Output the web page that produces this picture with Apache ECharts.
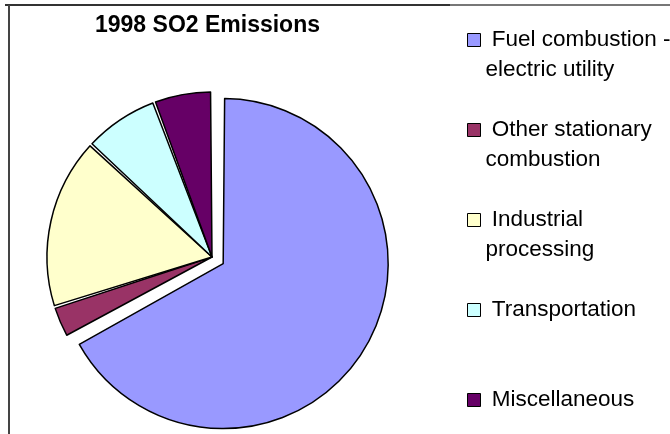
<!DOCTYPE html>
<html>
<head>
<meta charset="utf-8">
<script src="https://cdn.jsdelivr.net/npm/echarts@6/dist/echarts.min.js"></script>
<style>
  html, body { margin: 0; padding: 0; background: #fff; }
  #so2-chart { width: 670px; height: 434px; }
</style>
</head>
<body>
<div id="so2-chart"></div>
<script>
// 1998 SO2 emissions, share of total (%)
const categories = [
  'Fuel combustion - electric utility',
  'Other stationary combustion',
  'Industrial processing',
  'Transportation',
  'Miscellaneous'
];
const shares = [67.0, 3.1, 16.8, 7.4, 5.7];
const legendLines = [
  ['Fuel combustion -', 'electric utility'],
  ['Other stationary', 'combustion'],
  ['Industrial', 'processing'],
  ['Transportation', ''],
  ['Miscellaneous', '']
];
const colors = ['#9999ff', '#993366', '#ffffcc', '#ccffff', '#660066'];

const chartDom = document.getElementById('so2-chart');
const myChart = echarts.init(chartDom);

const option = {
  animation: false,
  color: colors,
  title: {
    text: '1998 SO2 Emissions',
    left: 90,
    top: 9,
    textStyle: {
      fontFamily: 'Liberation Sans, Arial, sans-serif',
      fontSize: 23,
      fontWeight: 'bold',
      color: '#000'
    }
  },
  legend: {
    orient: 'vertical',
    left: 462,
    top: -10,
    height: 480,
    itemGap: 0,
    itemWidth: 13,
    itemHeight: 13,
    icon: 'rect',
    selectedMode: false,
    data: categories,
    itemStyle: {
      borderColor: '#000',
      borderWidth: 1
    },
    formatter: (name) => {
      const lines = legendLines[categories.indexOf(name)];
      // blank first line keeps the square level with the first text line
      return ' \n ' + lines[0] + '\n' + (lines[1] || ' ');
    },
    textStyle: {
      fontFamily: 'Liberation Sans, Arial, sans-serif',
      fontSize: 22.5,
      lineHeight: 30,
      color: '#000'
    }
  },
  graphic: [
    {type: 'line', shape: {x1: 5, y1: 5, x2: 450, y2: 5}, style: {stroke: '#333', lineWidth: 2}},
    {type: 'line', shape: {x1: 450, y1: 5, x2: 670, y2: 5}, style: {stroke: '#777', lineWidth: 2}},
    {type: 'line', shape: {x1: 9, y1: 5, x2: 9, y2: 434}, style: {stroke: '#444', lineWidth: 2}}
  ],
  series: [
    {
      name: '1998 SO2 Emissions',
      type: 'pie',
      center: [212, 257],
      radius: 165,
      startAngle: 90,
      clockwise: true,
      padAngle: 1,
      selectedMode: 'multiple',
      selectedOffset: 13,
      label: {show: false},
      labelLine: {show: false},
      emphasis: {disabled: true},
      itemStyle: {
        borderColor: '#000',
        borderWidth: 1.5
      },
      data: categories.map((name, i) => ({
        name: name,
        value: shares[i],
        selected: i === 0
      }))
    }
  ]
};

option && myChart.setOption(option);
</script>
</body>
</html>
